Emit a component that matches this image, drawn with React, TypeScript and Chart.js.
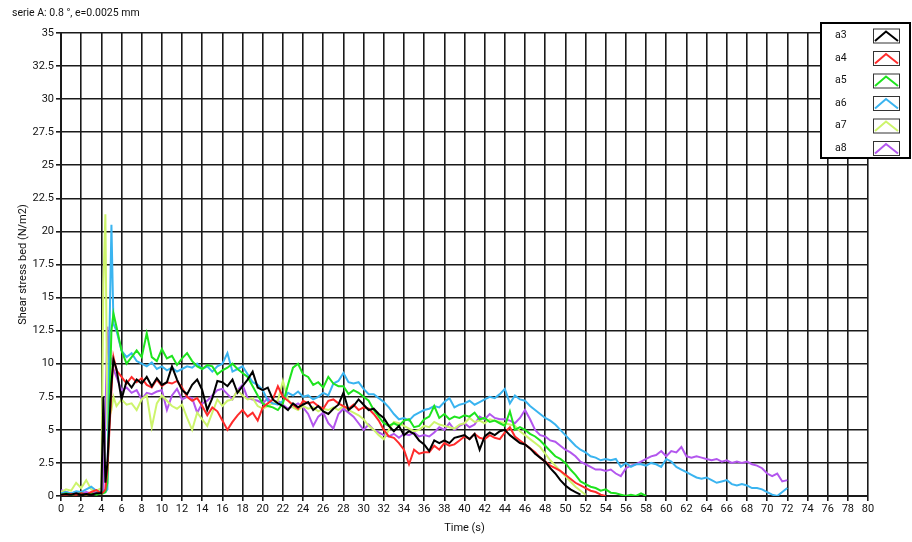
import React, { useEffect, useRef } from "react";
import { Chart, registerables } from "chart.js";
Chart.register(...registerables);

// Time axis (s): 0..4 step 0.5, spike detail 4.2..5.2, then 5.5..72 step 0.5
const timeS = [
  0, 0.5, 1, 1.5, 2, 2.5, 3, 3.5, 4,
  4.2, 4.4, 4.6, 4.8, 5, 5.2,
  5.5, 6, 6.5, 7, 7.5, 8, 8.5, 9, 9.5, 10,
  10.5, 11, 11.5, 12, 12.5, 13, 13.5, 14, 14.5, 15,
  15.5, 16, 16.5, 17, 17.5, 18, 18.5, 19, 19.5, 20,
  20.5, 21, 21.5, 22, 22.5, 23, 23.5, 24, 24.5, 25,
  25.5, 26, 26.5, 27, 27.5, 28, 28.5, 29, 29.5, 30,
  30.5, 31, 31.5, 32, 32.5, 33, 33.5, 34, 34.5, 35,
  35.5, 36, 36.5, 37, 37.5, 38, 38.5, 39, 39.5, 40,
  40.5, 41, 41.5, 42, 42.5, 43, 43.5, 44, 44.5, 45,
  45.5, 46, 46.5, 47, 47.5, 48, 48.5, 49, 49.5, 50,
  50.5, 51, 51.5, 52, 52.5, 53, 53.5, 54, 54.5, 55,
  55.5, 56, 56.5, 57, 57.5, 58, 58.5, 59, 59.5, 60,
  60.5, 61, 61.5, 62, 62.5, 63, 63.5, 64, 64.5, 65,
  65.5, 66, 66.5, 67, 67.5, 68, 68.5, 69, 69.5, 70,
  70.5, 71, 71.5, 72,
];

const a3 = [
  0.1, 0.15, 0.1, 0.2, 0.1, 0.15, 0.1, 0.2, 0.2,
  7.5, 1.0, 2.5, 5.5, 8.5, 10.3,
  9.6, 7.3, 8.7, 8.2, 8.8, 8.5, 9.0, 8.3, 8.9, 8.4,
  8.6, 9.8, 8.8, 8.0, 7.7, 8.4, 8.8, 8.0, 6.5, 7.4,
  8.7, 8.6, 8.3, 8.8, 7.8, 8.3, 8.8, 9.4, 8.2, 8.0,
  8.2, 7.3, 7.0, 6.8, 6.5, 7.0, 6.7, 6.9, 7.1, 6.5,
  6.8, 6.4, 6.2, 6.6, 6.9, 7.8, 6.5, 6.8, 7.3, 6.9,
  6.5, 6.6, 6.2, 5.9, 5.3, 4.9, 5.3, 4.6, 4.9, 4.7,
  4.2, 3.9, 3.4, 4.2, 4.0, 4.2, 4.0, 4.4, 4.5, 4.6,
  4.3, 4.7, 3.5, 4.5, 4.8, 4.6, 4.9, 5.0, 4.6, 4.3,
  4.0, 3.9, 3.6, 3.2, 2.9, 2.6, 2.1, 1.7, 1.2, 0.8,
  0.5, 0.3, 0.1,
];

const a4 = [
  0.1, 0.1, 0.15, 0.1, 0.2, 0.1, 0.3, 0.45, 0.2,
  0.3, 0.5, 2.0, 5.0, 8.0, 10.5,
  9.5, 9.0, 8.5, 9.0, 8.6, 8.9, 8.4, 8.2, 8.8, 8.3,
  8.6, 8.5, 8.7, 8.2, 7.5, 7.2, 7.4, 6.8, 6.1, 6.7,
  6.4, 5.7, 5.0, 5.6, 6.1, 6.5, 6.0, 6.3, 5.7, 6.7,
  7.0, 7.3, 8.3, 7.5, 7.2, 6.9, 6.6, 7.2, 7.0, 7.1,
  6.8, 6.6, 7.2, 7.3, 7.0, 6.8, 6.6, 6.9, 6.5, 6.7,
  6.6, 6.2, 5.7, 5.0, 4.5, 4.4, 4.0, 3.5, 2.4, 3.5,
  3.2, 3.3, 3.3, 3.8, 3.5, 4.0, 3.8, 3.9, 4.2, 4.5,
  4.3, 4.7, 4.4, 4.3, 4.6, 4.4, 4.3, 4.8, 5.2, 4.5,
  4.2, 3.9, 3.6, 3.3, 2.9, 2.6, 2.3, 2.1, 1.9, 1.6,
  1.3, 1.0, 0.8, 0.6, 0.4, 0.3, 0.1, 0.0,
];

const a5 = [
  0.1, 0.2, 0.1, 0.15, 0.2, 0.1, 0.2, 0.1, 0.2,
  0.2, 0.3, 1.0, 7.0, 12.5, 13.8,
  12.8, 11.0, 10.0, 10.5, 11.0, 10.5, 12.3, 10.5, 10.2, 11.1,
  10.4, 10.6, 9.9, 10.4, 10.8, 10.2, 9.8, 9.6, 9.9, 9.8,
  9.2, 9.5, 9.7, 10.0, 9.6, 9.3, 9.0, 8.3, 7.6, 7.0,
  6.8, 6.7, 6.5, 7.0, 8.4, 9.7, 10.0, 9.2, 9.0, 8.4,
  8.6, 8.2, 9.0, 8.5, 8.3, 8.3, 7.7, 8.0, 7.8, 7.5,
  7.2, 6.5, 6.0, 5.5, 5.3, 5.5, 5.3, 5.7, 5.8, 5.2,
  5.3, 5.8, 6.0, 6.8, 5.9, 6.2, 5.8, 6.0, 5.9, 6.1,
  6.0, 6.3, 5.8, 5.9, 5.6, 5.7, 5.5, 5.3, 6.4, 5.0,
  5.2, 5.0, 4.7, 4.5, 4.2, 3.8, 3.4, 3.0, 2.8, 2.5,
  2.0, 1.6, 1.1, 0.9, 0.7, 0.6, 0.4, 0.5, 0.25, 0.2,
  0.1, 0.0, 0.1, 0.0, 0.2, 0.0,
];

const a6 = [
  0.2, 0.3, 0.2, 0.35, 0.3, 0.5, 0.7, 0.4, 0.3,
  0.4, 0.3, 0.5, 12.0, 20.5, 13.0,
  12.5, 11.0, 10.5, 10.8, 10.2, 10.0, 9.8, 10.1, 9.6, 9.8,
  9.5, 9.7, 9.4, 9.6, 9.8, 9.7, 10.0, 9.6, 9.8, 9.4,
  9.8, 10.0, 10.8, 9.4, 9.6, 9.8, 9.2, 8.6, 8.4, 8.0,
  7.2, 7.0, 6.9, 7.2, 7.8, 7.6, 7.9, 7.5, 7.6, 7.3,
  7.5, 7.8, 7.6, 8.5, 8.7, 9.3, 8.6, 8.5, 8.6, 8.1,
  7.7, 7.7, 7.4, 7.1, 6.7, 6.2, 5.8, 5.9, 5.7, 6.1,
  6.3, 6.5, 6.6, 6.8, 6.7, 7.1, 7.4, 6.7, 6.9, 7.0,
  7.2, 6.9, 7.1, 7.3, 7.5, 7.4, 7.7, 8.1, 7.0, 7.6,
  7.3, 7.2, 6.8, 6.5, 6.2, 5.9, 5.7, 5.4, 5.0, 4.6,
  4.2, 3.8, 3.5, 3.3, 3.0, 2.9, 2.7, 2.8, 2.7, 2.8,
  2.2, 2.5, 2.2, 2.4, 2.4, 2.3, 2.5, 2.4, 2.2, 2.8,
  2.6, 2.2, 2.0, 1.8, 1.6, 1.4, 1.3, 1.4, 1.2, 1.0,
  1.1, 1.2, 0.9, 0.8, 0.9, 0.8, 0.6, 0.6, 0.5, 0.3,
  0.1, 0.0, 0.3, 0.6,
];

const a7 = [
  0.3, 0.5, 0.4, 1.0, 0.6, 1.2, 0.5, 0.4, 0.6,
  16.0, 21.3, 5.0, 6.0, 6.5, 7.5,
  6.8, 7.3, 6.9, 7.0, 6.5, 7.3, 7.6, 5.2, 7.0, 7.6,
  7.2, 6.8, 6.6, 6.9, 5.9, 5.0, 6.3, 5.8, 5.3, 6.3,
  7.3, 6.8, 7.2, 7.3, 8.0, 7.6, 7.3, 7.4, 6.8, 6.6,
  6.8, 7.0, 7.2, 8.7, 7.3, 6.7, 6.5, 6.8, 6.6, 6.7,
  6.4, 6.6, 6.5, 6.7, 6.5, 6.8, 6.5, 6.3, 6.1, 5.8,
  5.3, 5.0, 4.6, 4.3, 5.0, 5.6, 5.5, 5.3, 5.1, 4.9,
  5.0, 5.3, 5.2, 5.6, 5.4, 5.3, 5.2, 5.1, 5.4, 5.5,
  5.9, 5.6, 5.7, 5.5, 5.8, 5.7, 5.6, 5.5, 5.4, 5.3,
  4.9, 4.6, 4.3, 4.0, 3.7, 3.2, 2.7, 2.3, 1.9, 1.5,
  1.1, 0.7, 0.4, 0.1,
];

const a8 = [
  0.45, 0.3, 0.2, 0.3, 0.2, 0.3, 0.2, 0.3, 0.3,
  0.5, 6.0, 12.8, 10.0, 10.3, 9.6,
  9.0, 8.0, 8.2, 7.8, 8.0, 7.3, 7.8, 7.7, 7.9, 8.0,
  6.5, 7.6, 8.1, 7.3, 7.5, 7.4, 6.3, 7.0, 7.2, 7.6,
  8.0, 8.1, 7.7, 7.3, 8.0, 8.4, 7.4, 7.3, 7.2, 7.0,
  7.4, 7.0, 7.2, 6.9, 6.6, 6.8, 7.0, 6.7, 6.2, 5.3,
  6.0, 6.3, 5.5, 5.1, 6.2, 6.6, 6.3, 6.0, 5.5, 5.0,
  5.4, 5.0, 4.8, 4.6, 4.5, 4.7, 4.4, 4.7, 4.6, 4.8,
  4.5, 4.6, 4.5, 4.8, 5.2, 5.0, 5.5, 5.0, 5.3, 5.5,
  5.2, 5.4, 6.0, 5.8, 6.2, 5.9, 5.8, 5.8, 5.7, 5.5,
  5.9, 6.5, 5.8, 5.0, 4.6, 4.5, 4.2, 4.1, 3.8, 3.5,
  3.3, 3.0, 2.6, 2.4, 2.2, 2.0, 2.0, 1.9, 2.0, 1.7,
  1.5, 2.1, 2.3, 2.4, 2.6, 2.8, 3.0, 3.1, 3.4, 3.0,
  3.4, 3.3, 3.7, 3.0, 2.9, 3.0, 2.9, 2.8, 2.7, 2.8,
  2.6, 2.7, 2.5, 2.6, 2.5, 2.6, 2.4, 2.3, 2.1, 1.7,
  1.5, 1.7, 1.1, 1.2,
];

const seriesNames = ["a3", "a4", "a5", "a6", "a7", "a8"];
const seriesValues = [a3, a4, a5, a6, a7, a8];
const seriesColors = ["#000000", "#ff2b2b", "#1ee41e", "#3ab4f0", "#cdf46c", "#b356ee"];

const chartTitle = "serie A: 0.8 °, e=0.0025 mm";
const xAxisTitle = "Time (s)";
const yAxisTitle = "Shear stress bed (N/m2)";

const FONT = "Roboto, 'Open Sans', sans-serif";

const overlayPlugin = {
  id: "overlay",
  afterDraw(chart: any) {
    const ctx = chart.ctx as CanvasRenderingContext2D;
    const area = chart.chartArea;
    ctx.save();
    ctx.fillStyle = "#111";
    ctx.font = `10.5px ${FONT}`;
    ctx.textBaseline = "middle";
    ctx.textAlign = "left";
    ctx.fillText(chartTitle, 12, 13);

    ctx.font = `11px ${FONT}`;
    ctx.textAlign = "center";
    ctx.fillText(xAxisTitle, (area.left + area.right) / 2, 528);

    ctx.save();
    ctx.translate(23, (area.top + area.bottom) / 2);
    ctx.rotate(-Math.PI / 2);
    ctx.fillText(yAxisTitle, 0, 0);
    ctx.restore();

    // legend box
    const bx = 821, by = 23, bw = 89, bh = 135;
    ctx.fillStyle = "#fff";
    ctx.fillRect(bx, by, bw, bh);
    ctx.strokeStyle = "#000";
    ctx.lineWidth = 2;
    ctx.strokeRect(bx, by, bw, bh);
    const rowH = 22.5;
    seriesNames.forEach((name, i) => {
      const cy = 35.5 + i * rowH;
      ctx.fillStyle = "#111";
      ctx.textAlign = "left";
      ctx.font = `10.5px ${FONT}`;
      ctx.fillText(name, 835, cy);
      const sx = 873, sw = 26, sh = 14, sy = cy - sh / 2;
      ctx.strokeStyle = "#333";
      ctx.lineWidth = 1;
      ctx.strokeRect(sx + 0.5, sy + 0.5, sw, sh);
      ctx.strokeStyle = seriesColors[i];
      ctx.lineWidth = 2;
      ctx.beginPath();
      ctx.moveTo(sx + 2, sy + sh - 1.5);
      ctx.lineTo(sx + sw / 2, sy + 3);
      ctx.lineTo(sx + sw - 1, sy + sh - 1.5);
      ctx.stroke();
    });
    ctx.restore();
  },
};

export default function App() {
  const canvasRef = useRef<HTMLCanvasElement | null>(null);

  useEffect(() => {
    document.body.style.margin = "0";
    const canvas = canvasRef.current;
    if (!canvas) return;
    const datasets = seriesNames.map((name, i) => ({
      label: name,
      data: seriesValues[i].map((v, k) => ({ x: timeS[k], y: v })),
      borderColor: seriesColors[i],
      backgroundColor: seriesColors[i],
      borderWidth: 2,
      pointRadius: 0,
      tension: 0,
      fill: false,
    }));
    const chart = new Chart(canvas, {
      type: "line",
      data: { datasets },
      options: {
        responsive: false,
        animation: false,
        devicePixelRatio: 1,
        layout: { padding: { top: 33, right: 44, left: 0, bottom: 0 } },
        plugins: {
          legend: { display: false },
          tooltip: { enabled: false },
          title: { display: false },
        },
        scales: {
          x: {
            type: "linear",
            min: 0,
            max: 80,
            afterFit: (s: any) => { s.height = 46; },
            ticks: {
              stepSize: 2,
              autoSkip: false,
              maxRotation: 0,
              color: "#111",
              padding: 2,
              font: { family: FONT, size: 11 },
            },
            grid: { color: "#1a1a1a", lineWidth: 1.6, drawTicks: true, tickLength: 5 },
            border: { display: true, color: "#1a1a1a", width: 2 },
          },
          y: {
            type: "linear",
            min: 0,
            max: 35,
            afterFit: (s: any) => { s.width = 61; },
            ticks: {
              stepSize: 2.5,
              color: "#111",
              padding: 2,
              font: { family: FONT, size: 11 },
            },
            grid: { color: "#1a1a1a", lineWidth: 1.6, drawTicks: true, tickLength: 5 },
            border: { display: true, color: "#1a1a1a", width: 2 },
          },
        },
      },
      plugins: [overlayPlugin],
    });
    return () => chart.destroy();
  }, []);

  return (
    <div style={{ position: "absolute", left: 0, top: 0, width: 912, height: 542, background: "#fff" }}>
      <canvas ref={canvasRef} width={912} height={542} style={{ width: 912, height: 542, display: "block" }} />
    </div>
  );
}
